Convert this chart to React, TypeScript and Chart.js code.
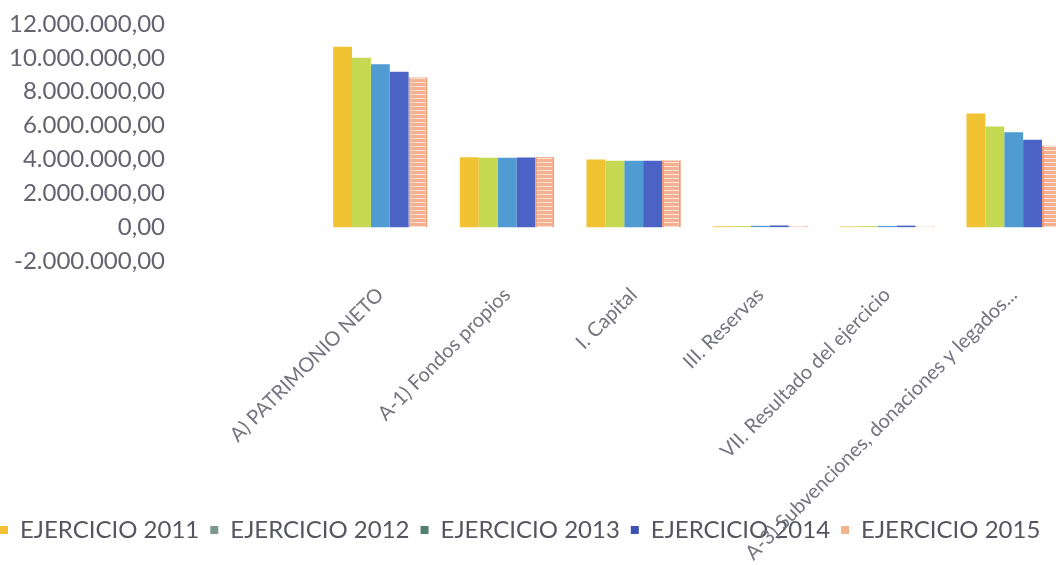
import React, { useEffect, useRef } from "react";
import { Chart, registerables } from "chart.js";

Chart.register(...registerables);

const categories = [
  "A) PATRIMONIO NETO",
  "A-1) Fondos propios",
  "I. Capital",
  "III. Reservas",
  "VII. Resultado del ejercicio",
  "A-3) Subvenciones, donaciones y legados...",
];

const seriesNames = [
  "EJERCICIO 2011",
  "EJERCICIO 2012",
  "EJERCICIO 2013",
  "EJERCICIO 2014",
  "EJERCICIO 2015",
];

const ejercicio2011 = [10650000, 4130000, 4000000, 50000, 40000, 6720000];
const ejercicio2012 = [10000000, 4100000, 3920000, 60000, 60000, 5940000];
const ejercicio2013 = [9620000, 4100000, 3920000, 80000, 70000, 5600000];
const ejercicio2014 = [9180000, 4120000, 3920000, 100000, 90000, 5160000];
const ejercicio2015 = [8850000, 4150000, 3950000, 70000, 60000, 4820000];

const yMin = -2000000;
const yMax = 12000000;
const yStep = 2000000;

const barColors = ["#F1C232", "#C5D852", "#4F9BD2", "#4C63C6", "#F2A887"];
const legendColors = ["#F1C232", "#7C988C", "#517E6F", "#3E52B6", "#F3B38C"];

function formatEs(v: number): string {
  const neg = v < 0;
  const abs = Math.abs(Math.round(v));
  const s = abs.toString().replace(/\B(?=(\d{3})+(?!\d))/g, ".");
  return (neg ? "-" : "") + s + ",00";
}

function makeStripePattern(): CanvasPattern | string {
  const c = document.createElement("canvas");
  c.width = 4;
  c.height = 4;
  const g = c.getContext("2d");
  if (!g) return barColors[4];
  g.fillStyle = "#F4AE90";
  g.fillRect(0, 0, 4, 4);
  g.fillStyle = "#FBE3D8";
  g.fillRect(0, 2, 4, 1);
  const p = g.createPattern(c, "repeat");
  return p || barColors[4];
}

const unclipXLabels = {
  id: "unclipXLabels",
  afterLayout(chart: any) {
    const x = chart.scales.x;
    if (x) x.bottom = chart.height;
  },
};

export default function App() {
  const ref = useRef<HTMLCanvasElement | null>(null);

  useEffect(() => {
    if (!ref.current) return;
    const series = [ejercicio2011, ejercicio2012, ejercicio2013, ejercicio2014, ejercicio2015];
    const stripe = makeStripePattern();
    const chart = new Chart(ref.current, {
      type: "bar",
      data: {
        labels: categories,
        datasets: series.map((d, i) => ({
          label: seriesNames[i],
          data: d,
          backgroundColor: i === 4 ? (stripe as any) : barColors[i],
          borderColor: i === 4 ? "#EF9E7C" : barColors[i],
          borderWidth: i === 4 ? { left: 2, right: 2, top: 0, bottom: 0 } : 0,
          borderSkipped: false,
          categoryPercentage: 0.745,
          barPercentage: 1.0,
        })),
      },
      plugins: [unclipXLabels],
      options: {
        animation: false,
        responsive: false,
        layout: { padding: { top: 24, right: 3, left: -11, bottom: 13 } },
        plugins: {
          tooltip: { enabled: false },
          legend: {
            position: "bottom",
            align: "start",
            labels: {
              boxWidth: 8,
              boxHeight: 8,
              padding: 11,
              color: "#55555f",
              font: { family: "Lato", size: 24 },
              generateLabels: (ch: any) =>
                ch.data.datasets.map((ds: any, i: number) => ({
                  text: ds.label,
                  fillStyle: legendColors[i],
                  strokeStyle: legendColors[i],
                  lineWidth: 0,
                  hidden: false,
                  datasetIndex: i,
                  fontColor: "#55555f",
                })),
            },
          },
        },
        scales: {
          x: {
            grid: { display: false },
            border: { display: false },
            ticks: {
              autoSkip: false,
              maxRotation: 45,
              minRotation: 45,
              padding: 14,
              color: "#74747e",
              font: { family: "Lato", size: 20 },
            },
            afterFit: (s: any) => {
              s.height = 246;
            },
          },
          y: {
            min: yMin,
            max: yMax,
            grid: { display: false },
            border: { display: false },
            ticks: {
              autoSkip: false,
              stepSize: yStep,
              padding: 144,
              color: "#63636e",
              font: { family: "Lato", size: 24 },
              callback: (v: any) => formatEs(Number(v)),
            },
            afterFit: (s: any) => {
              s.width = 328;
              s.paddingTop = 0;
              s.paddingBottom = 0;
            },
          },
        },
      },
    });
    return () => chart.destroy();
  }, []);

  return (
    <div
      style={{
        position: "fixed",
        left: 0,
        top: 0,
        width: 1056,
        height: 565,
        overflow: "hidden",
        background: "#ffffff",
      }}
    >
      <canvas ref={ref} width={1080} height={565} style={{ width: 1080, height: 565, display: "block" }} />
    </div>
  );
}
